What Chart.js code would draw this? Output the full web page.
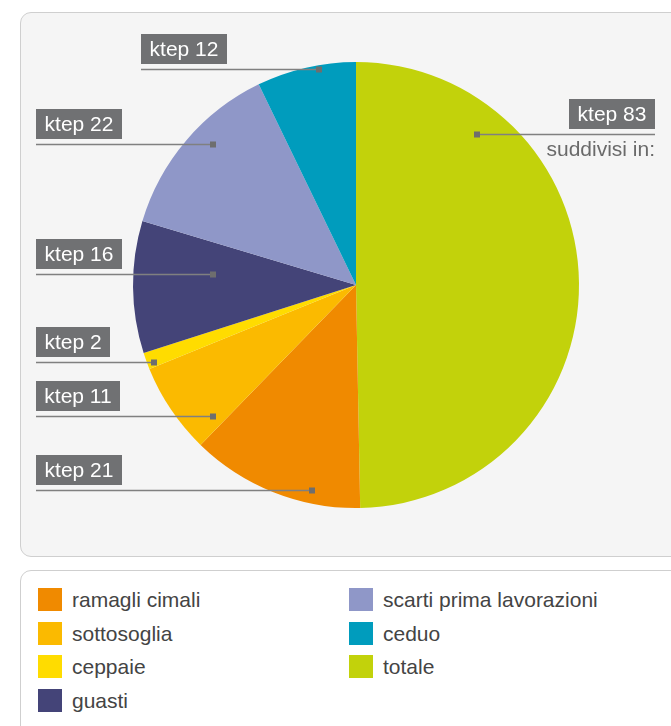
<!DOCTYPE html>
<html>
<head>
<meta charset="utf-8">
<script src="https://cdn.jsdelivr.net/npm/chart.js@4"></script>
<style>
    html, body { margin: 0; padding: 0; background: #fff; }
    body { width: 671px; height: 726px; position: relative; overflow: hidden; font-family: "Liberation Sans", Arial, sans-serif; }
    .panel { position: absolute; left: 20px; top: 12px; width: 720px; height: 543px; background: #f5f5f5; border: 1.5px solid #cfcfcf; border-radius: 11px; }
    .legend { position: absolute; left: 20px; top: 570px; width: 720px; height: 200px; background: #fff; border: 1.5px solid #cfcfcf; border-radius: 11px; }
    #pie { position: absolute; left: 0; top: 0; }
    .leg-item { position: absolute; height: 24px; line-height: 24px; font-size: 21px; color: #444; white-space: nowrap; }
    .leg-item i { position: absolute; left: 0; top: 0; width: 24px; height: 23px; }
    .leg-item span { position: absolute; left: 34px; top: 0; }
</style>
</head>
<body>
<div class="panel"></div>
<div class="legend" id="legend"></div>
<canvas id="pie" width="671" height="560"></canvas>
<script>
(function() {
    'use strict';

    // slice order, clockwise from 12 o'clock
    var categories = ['totale', 'ramagli cimali', 'sottosoglia', 'ceppaie', 'guasti', 'scarti prima lavorazioni', 'ceduo'];
    var values = [83, 21, 11, 2, 16, 22, 12];
    var colors = ['#c2d20b', '#f08a00', '#fbba00', '#ffdc00', '#444478', '#8f97c8', '#009cbd'];
    var unit = 'ktep';

    // legend shows the parts first and the total last
    var legendOrder = [1, 2, 3, 4, 5, 6, 0];

    // callout placement relative to the pie centre: marker offset, and where the line starts
    var callouts = [
        { side: 'right', dx: 121, dy: -151, end: 655, note: 'suddivisi in:' },
        { side: 'left', dx: -44, dy: 205, start: 36 },
        { side: 'left', dx: -143, dy: 131, start: 36 },
        { side: 'left', dx: -202, dy: 77, start: 36 },
        { side: 'left', dx: -143, dy: -11, start: 36 },
        { side: 'left', dx: -143, dy: -141, start: 36 },
        { side: 'left', dx: -37, dy: -216, start: 141 }
    ];

    var calloutPlugin = {
        id: 'callouts',
        afterDatasetsDraw: function(chart) {
            var ctx = chart.ctx;
            var arcs = chart.getDatasetMeta(0).data;
            ctx.save();
            ctx.font = '21px "Liberation Sans", Arial, sans-serif';
            ctx.textBaseline = 'middle';
            arcs.forEach(function(arc, i) {
                var c = callouts[i];
                var mx = Math.round(arc.x + c.dx);
                var my = Math.round(arc.y + c.dy);
                var text = unit + ' ' + values[i];
                var tw = ctx.measureText(text).width;
                var bw = Math.round(tw + 17);
                var bh = 30;
                var x0, x1, bx;
                if (c.side === 'left') {
                    x0 = c.start; x1 = mx; bx = c.start;
                } else {
                    x0 = mx; x1 = c.end; bx = c.end - bw;
                }
                // leader line
                ctx.strokeStyle = '#808080';
                ctx.lineWidth = 1.5;
                ctx.beginPath();
                ctx.moveTo(x0, my + 0.5);
                ctx.lineTo(x1, my + 0.5);
                ctx.stroke();
                // marker
                ctx.fillStyle = '#6e6e6e';
                ctx.fillRect(mx - 3, my - 2.5, 6, 6);
                // value box
                ctx.fillStyle = '#707173';
                ctx.fillRect(bx, my - 5 - bh, bw, bh);
                ctx.fillStyle = '#ffffff';
                ctx.textAlign = 'left';
                ctx.fillText(text, bx + (bw - tw) / 2, my - 5 - bh / 2 + 1);
                if (c.note) {
                    ctx.fillStyle = '#6a6a6a';
                    ctx.textAlign = 'right';
                    ctx.fillText(c.note, c.end, my + 16);
                }
            });
            ctx.restore();
        }
    };

    new Chart(document.getElementById('pie'), {
        type: 'pie',
        data: {
            labels: categories,
            datasets: [{
                data: values,
                backgroundColor: colors,
                borderWidth: 0,
                hoverOffset: 0
            }]
        },
        options: {
            responsive: false,
            animation: false,
            layout: { padding: { left: 133, right: 92, top: 62, bottom: 52 } },
            plugins: {
                legend: { display: false },
                tooltip: { enabled: false }
            }
        },
        plugins: [calloutPlugin]
    });

    // two-column html legend
    var legend = document.getElementById('legend');
    legendOrder.forEach(function(idx, n) {
        var col = n < 4 ? 0 : 1;
        var row = col === 0 ? n : n - 4;
        var item = document.createElement('div');
        item.className = 'leg-item';
        item.style.left = (col === 0 ? 17 : 328) + 'px';
        item.style.top = (17 + row * 33.5) + 'px';
        item.innerHTML = '<i style="background:' + colors[idx] + '"></i><span>' + categories[idx] + '</span>';
        legend.appendChild(item);
    });
})();
</script>
</body>
</html>
